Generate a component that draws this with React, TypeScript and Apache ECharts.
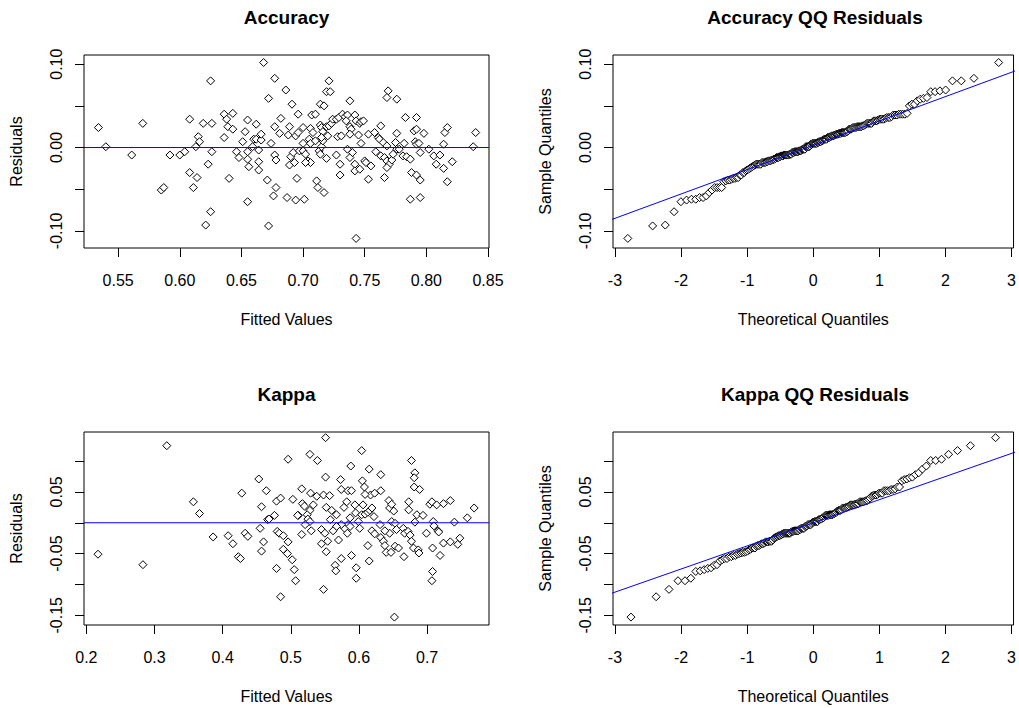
import React, { useEffect, useRef } from "react";
import * as echarts from "echarts";

// ---------- data ----------
// Accuracy model: [fitted value, residual]
const accuracyPoints: [number, number][] = [
  [0.534, 0.024], [0.540, 0.001], [0.561, -0.009], [0.570, 0.029], [0.592, -0.009], [0.600, -0.009],
  [0.604, -0.005], [0.585, -0.051], [0.587, -0.048], [0.608, 0.034], [0.615, 0.013], [0.616, 0.007],
  [0.613, 0.001], [0.619, 0.029], [0.626, 0.029], [0.625, 0.080], [0.626, -0.005], [0.623, -0.020],
  [0.608, -0.030], [0.614, -0.036], [0.611, -0.048], [0.625, -0.077], [0.621, -0.093], [0.636, 0.040],
  [0.643, 0.041], [0.638, 0.034], [0.639, 0.025], [0.643, 0.022], [0.636, 0.012], [0.640, -0.037],
  [0.646, -0.005], [0.648, -0.012], [0.651, 0.007], [0.653, 0.019], [0.655, 0.033], [0.655, -0.005],
  [0.655, -0.014], [0.656, -0.023], [0.659, 0.001], [0.660, 0.010], [0.662, 0.010], [0.662, 0.028],
  [0.664, -0.003], [0.664, -0.017], [0.664, -0.027], [0.666, 0.009], [0.666, 0.016], [0.655, -0.065],
  [0.668, 0.102], [0.671, -0.039], [0.672, 0.059], [0.672, -0.094], [0.674, 0.005], [0.677, 0.083],
  [0.677, -0.009], [0.678, -0.015], [0.678, -0.048], [0.676, -0.058], [0.677, 0.025], [0.681, 0.017],
  [0.682, 0.035], [0.686, 0.069], [0.691, 0.052], [0.688, 0.015], [0.687, -0.060], [0.689, 0.025],
  [0.690, -0.011], [0.689, -0.021], [0.694, -0.063], [0.693, -0.018], [0.694, 0.014], [0.695, -0.037],
  [0.696, 0.040], [0.696, 0.018], [0.692, -0.006], [0.697, -0.004],
  [0.701, -0.062], [0.700, 0.024], [0.700, 0.005], [0.700, -0.004], [0.702, -0.008], [0.704, -0.016],
  [0.706, -0.018], [0.702, -0.018], [0.706, 0.023], [0.708, 0.018], [0.707, 0.039], [0.710, 0.040],
  [0.705, 0.010], [0.706, 0.005], [0.710, 0.008], [0.711, -0.040], [0.712, -0.048], [0.717, -0.054],
  [0.713, -0.004], [0.714, -0.008], [0.719, -0.013], [0.715, 0.001], [0.714, 0.027], [0.715, 0.024],
  [0.716, 0.019], [0.719, 0.025], [0.721, 0.026], [0.723, 0.029], [0.714, 0.052], [0.717, 0.050],
  [0.716, 0.008], [0.715, 0.012], [0.720, 0.014], [0.719, 0.067], [0.722, 0.067], [0.721, 0.080],
  [0.724, 0.034], [0.727, 0.034], [0.729, 0.036], [0.728, 0.013], [0.731, 0.014], [0.727, -0.009],
  [0.730, -0.020], [0.730, -0.033], [0.732, 0.040], [0.734, 0.037], [0.736, 0.039], [0.735, 0.032],
  [0.738, 0.025], [0.739, 0.022], [0.738, 0.016], [0.738, 0.056], [0.742, 0.039], [0.743, 0.032],
  [0.746, 0.029], [0.747, 0.031], [0.749, 0.032], [0.745, 0.015], [0.736, -0.002], [0.738, -0.012],
  [0.740, -0.006], [0.742, -0.020], [0.742, -0.028], [0.746, -0.026], [0.747, 0.005], [0.750, -0.016],
  [0.751, -0.018], [0.755, -0.022], [0.753, -0.038], [0.753, 0.016], [0.758, 0.018], [0.761, 0.012],
  [0.763, 0.026], [0.759, -0.005], [0.762, 0.010], [0.765, 0.006], [0.768, 0.002], [0.763, -0.010],
  [0.766, -0.012], [0.768, -0.016], [0.770, -0.020], [0.768, -0.024], [0.772, -0.015], [0.773, -0.008],
  [0.766, -0.036], [0.769, 0.068], [0.768, 0.060], [0.776, 0.058], [0.776, 0.017], [0.775, 0.006],
  [0.776, -0.002], [0.778, -0.002], [0.782, 0.005], [0.781, -0.010], [0.784, -0.011], [0.787, -0.014],
  [0.783, 0.036], [0.792, 0.036], [0.790, 0.020], [0.792, 0.022], [0.798, 0.017], [0.791, 0.007],
  [0.792, 0.004], [0.794, 0.005], [0.795, -0.006], [0.802, -0.002], [0.788, -0.030], [0.792, -0.033],
  [0.795, -0.039], [0.787, -0.062], [0.795, -0.060], [0.806, -0.010], [0.811, -0.009], [0.808, -0.020],
  [0.814, -0.025], [0.821, -0.017], [0.815, 0.018], [0.817, 0.024], [0.814, 0.004], [0.817, -0.041],
  [0.838, 0.001], [0.840, 0.018], [0.743, -0.109],
];

// Kappa model: [fitted value, residual]
const kappaPoints: [number, number][] = [
  [0.217, -0.051], [0.283, -0.068], [0.318, 0.125], [0.357, 0.034], [0.366, 0.015], [0.386, -0.023],
  [0.408, -0.021], [0.415, -0.034], [0.423, -0.055], [0.426, -0.058], [0.428, 0.048], [0.433, -0.017],
  [0.437, -0.022], [0.453, 0.071], [0.464, 0.052], [0.457, 0.026], [0.466, 0.005], [0.468, 0.006],
  [0.476, 0.012], [0.455, -0.009], [0.460, -0.031], [0.457, -0.046], [0.479, 0.035], [0.485, 0.040],
  [0.480, -0.014], [0.483, -0.017], [0.489, -0.021], [0.496, -0.031], [0.489, -0.043], [0.495, -0.050],
  [0.502, -0.060], [0.479, -0.074], [0.505, -0.076], [0.507, -0.094], [0.485, -0.120], [0.496, 0.103],
  [0.503, 0.038], [0.511, 0.012],
  [0.551, 0.138], [0.528, 0.111], [0.539, 0.101], [0.604, 0.117], [0.588, 0.092], [0.551, 0.074],
  [0.573, 0.070], [0.615, 0.087], [0.632, 0.078], [0.605, 0.068], [0.608, 0.058], [0.516, 0.055],
  [0.529, 0.048], [0.538, 0.043], [0.548, 0.045], [0.557, 0.044], [0.574, 0.054], [0.584, 0.052],
  [0.589, 0.052], [0.517, 0.031], [0.520, 0.027], [0.533, 0.029], [0.528, 0.020], [0.524, 0.013],
  [0.525, 0.006], [0.528, 0.002], [0.521, -0.003], [0.510, 0.012], [0.516, -0.019], [0.530, -0.013],
  [0.545, -0.011], [0.550, -0.017], [0.552, 0.025], [0.560, 0.020], [0.558, 0.005], [0.567, 0.013],
  [0.578, 0.025], [0.582, 0.034], [0.594, 0.029], [0.595, 0.016], [0.587, 0.008], [0.584, -0.003],
  [0.579, -0.009], [0.583, -0.017], [0.587, -0.006], [0.574, -0.003], [0.567, -0.006], [0.562, -0.013],
  [0.570, -0.028], [0.545, -0.034], [0.554, -0.030], [0.552, -0.047], [0.574, -0.058], [0.565, -0.069],
  [0.566, -0.078], [0.589, -0.053], [0.596, -0.073], [0.596, -0.090], [0.548, -0.108], [0.599, 0.002],
  [0.601, -0.009], [0.604, 0.013], [0.609, 0.014], [0.613, 0.017], [0.616, 0.020], [0.619, 0.024],
  [0.617, 0.045], [0.623, 0.048], [0.609, 0.046], [0.606, 0.029], [0.632, 0.052], [0.622, 0.010],
  [0.613, -0.037], [0.615, -0.062], [0.619, -0.013], [0.623, -0.018], [0.631, -0.003], [0.632, -0.024],
  [0.636, -0.030], [0.638, -0.037], [0.640, -0.048], [0.647, -0.048], [0.653, -0.038], [0.658, -0.041],
  [0.645, 0.024], [0.644, 0.036], [0.648, 0.030], [0.651, 0.019], [0.648, 0.002], [0.653, -0.001],
  [0.655, -0.011], [0.645, -0.017], [0.638, -0.013], [0.666, -0.055], [0.652, -0.153], [0.665, -0.009],
  [0.667, -0.017], [0.672, -0.014], [0.675, -0.020], [0.673, 0.034], [0.673, 0.021], [0.677, 0.101],
  [0.682, 0.081], [0.681, 0.073], [0.681, 0.058], [0.689, 0.054], [0.685, 0.013], [0.694, 0.012],
  [0.682, 0.001], [0.677, -0.030], [0.680, -0.041], [0.687, -0.044], [0.688, -0.049], [0.699, -0.017],
  [0.704, 0.030], [0.707, 0.034], [0.714, 0.029], [0.724, 0.031], [0.734, 0.036], [0.709, 0.002],
  [0.710, -0.005], [0.716, -0.013], [0.717, -0.015], [0.708, -0.041], [0.719, -0.053], [0.708, -0.079],
  [0.707, -0.094], [0.724, -0.033], [0.734, -0.031], [0.745, -0.035], [0.748, -0.025], [0.740, 0.001],
  [0.759, 0.008], [0.769, 0.024],
];

// Reference lines: [intercept, slope]
const accuracyZeroLine = [0, 0];
const kappaZeroLine = [0, 0];
const accuracyQQLine = [0.0027, 0.0292];
const kappaQQLine = [0.0, 0.0375];

// Axis ticks and labels
const accFittedTicks = [0.55, 0.6, 0.65, 0.7, 0.75, 0.8, 0.85];
const accResidTicks = [-0.1, -0.05, 0, 0.05, 0.1];
const accResidLabels = [-0.1, 0, 0.1];
const kapFittedTicks = [0.2, 0.3, 0.4, 0.5, 0.6, 0.7];
const kapResidTicks = [-0.15, -0.1, -0.05, 0, 0.05, 0.1];
const kapResidLabels = [-0.15, -0.05, 0.05];
const quantileTicks = [-3, -2, -1, 0, 1, 2, 3];

const titles = ["Accuracy", "Accuracy QQ Residuals", "Kappa", "Kappa QQ Residuals"];

// ---------- helpers ----------
const FONT = '"Liberation Sans", Arial, Helvetica, sans-serif';

// inverse standard normal CDF (Acklam)
function qnorm(p: number): number {
  const a = [-3.969683028665376e1, 2.209460984245205e2, -2.759285104469687e2, 1.38357751867269e2, -3.066479806614716e1, 2.506628277459239];
  const b = [-5.447609879822406e1, 1.615858368580409e2, -1.556989798598866e2, 6.680131188771972e1, -1.328068155288572e1];
  const c = [-7.784894002430293e-3, -3.223964580411365e-1, -2.400758277161838, -2.549732539343734, 4.374664141464968, 2.938163982698783];
  const d = [7.784695709041462e-3, 3.224671290700398e-1, 2.445134137142996, 3.754408661907416];
  const pl = 0.02425;
  if (p < pl) {
    const q = Math.sqrt(-2 * Math.log(p));
    return (((((c[0] * q + c[1]) * q + c[2]) * q + c[3]) * q + c[4]) * q + c[5]) / ((((d[0] * q + d[1]) * q + d[2]) * q + d[3]) * q + 1);
  }
  if (p > 1 - pl) {
    const q = Math.sqrt(-2 * Math.log(1 - p));
    return -(((((c[0] * q + c[1]) * q + c[2]) * q + c[3]) * q + c[4]) * q + c[5]) / ((((d[0] * q + d[1]) * q + d[2]) * q + d[3]) * q + 1);
  }
  const q = p - 0.5;
  const r = q * q;
  return ((((((a[0] * r + a[1]) * r + a[2]) * r + a[3]) * r + a[4]) * r + a[5]) * q) / (((((b[0] * r + b[1]) * r + b[2]) * r + b[3]) * r + b[4]) * r + 1);
}

// normal QQ points: sorted residuals against theoretical quantiles
function qqPoints(points: [number, number][]): [number, number][] {
  const res = points.map((p) => p[1]).sort((x, y) => x - y);
  const n = res.length;
  return res.map((v, i) => [qnorm((i + 1 - 0.5) / n), v]);
}

function axis(
  gridIndex: number,
  min: number,
  max: number,
  ticks: number[],
  labels: number[],
  digits: number,
  name: string,
  nameGap: number,
  margin: number,
  vertical: boolean
) {
  return {
    type: "value",
    gridIndex,
    min,
    max,
    position: vertical ? "left" : "bottom",
    name,
    nameLocation: "middle",
    nameGap,
    nameTextStyle: { fontSize: 16, fontFamily: FONT, color: "#000" },
    axisLine: { show: false, onZero: false },
    splitLine: { show: false },
    axisTick: { show: true, customValues: ticks, length: 9, lineStyle: { color: "#000", width: 1 } },
    axisLabel: {
      customValues: labels,
      formatter: (v: number) => v.toFixed(digits),
      fontSize: 16,
      fontFamily: FONT,
      color: "#000",
      margin,
      rotate: vertical ? 90 : 0,
    },
  };
}

const BLUE = "#0000ff";

function scatter(idx: number, data: [number, number][]) {
  return {
    type: "scatter",
    xAxisIndex: idx,
    yAxisIndex: idx,
    data,
    symbol: "diamond",
    symbolSize: 8,
    silent: true,
    z: 2,
    itemStyle: { color: "#ffffff", opacity: 1, borderColor: "#000000", borderWidth: 1 },
  };
}

// straight reference line y = b + m x, drawn across the plot
function refLine(idx: number, line: number[], x0: number, x1: number, clip: boolean) {
  const [b, m] = line;
  return {
    type: "line",
    xAxisIndex: idx,
    yAxisIndex: idx,
    data: [[x0, b + x0 * m], [x1, b + x1 * m]],
    symbol: "none",
    silent: true,
    clip,
    zlevel: 1,
    z: 10,
    lineStyle: { color: BLUE, width: 1 },
  };
}

export default function App() {
  const ref = useRef<HTMLDivElement>(null);

  useEffect(() => {
    if (!ref.current) return;
    const chart = echarts.init(ref.current, null, { renderer: "svg" });

    const accX: [number, number] = [0.5223, 0.8508];
    const accY: [number, number] = [-0.1205, 0.111];
    const kapX: [number, number] = [0.1965, 0.7908];
    const kapY: [number, number] = [-0.1658, 0.1472];
    const qX: [number, number] = [-3.03, 3.03];

    const gridBase = { show: true, borderColor: "#000", borderWidth: 1 };
    const grids = [
      { left: 84, top: 55, width: 405, height: 193 },
      { left: 613, top: 55, width: 404, height: 193 },
      { left: 84, top: 432, width: 405, height: 193 },
      { left: 613, top: 432, width: 404, height: 193 },
    ].map((g) => ({ ...gridBase, ...g }));

    const centers = grids.map((g) => [g.left + g.width / 2, g.top - 38]);

    const option = {
      animation: false,
      backgroundColor: "#fff",
      grid: grids,
      xAxis: [
        axis(0, accX[0], accX[1], accFittedTicks, accFittedTicks, 2, "Fitted Values", 63, 24, false),
        axis(1, qX[0], qX[1], quantileTicks, quantileTicks, 0, "Theoretical Quantiles", 63, 24, false),
        axis(2, kapX[0], kapX[1], kapFittedTicks, kapFittedTicks, 1, "Fitted Values", 63, 24, false),
        axis(3, qX[0], qX[1], quantileTicks, quantileTicks, 0, "Theoretical Quantiles", 63, 24, false),
      ],
      yAxis: [
        axis(0, accY[0], accY[1], accResidTicks, accResidLabels, 2, "Residuals", 60, 20, true),
        axis(1, accY[0], accY[1], accResidTicks, accResidLabels, 2, "Sample Quantiles", 60, 20, true),
        axis(2, kapY[0], kapY[1], kapResidTicks, kapResidLabels, 2, "Residuals", 60, 20, true),
        axis(3, kapY[0], kapY[1], kapResidTicks, kapResidLabels, 2, "Sample Quantiles", 60, 20, true),
      ],
      graphic: titles.map((t, i) => ({
        type: "text",
        x: centers[i][0],
        y: centers[i][1],
        silent: true,
        style: {
          text: t,
          fontSize: 19,
          fontWeight: "bold",
          fontFamily: FONT,
          fill: "#000",
          align: "center",
          verticalAlign: "middle",
        },
      })),
      series: [
        scatter(0, accuracyPoints),
        scatter(1, qqPoints(accuracyPoints)),
        scatter(2, kappaPoints),
        scatter(3, qqPoints(kappaPoints)),
        refLine(0, accuracyZeroLine, accX[0], accX[1], false),
        refLine(1, accuracyQQLine, -3.5, 3.5, true),
        refLine(2, kappaZeroLine, kapX[0], kapX[1], false),
        refLine(3, kappaQQLine, -3.5, 3.5, true),
      ],
    };

    chart.setOption(option as any);
    return () => chart.dispose();
  }, []);

  return (
    <div
      ref={ref}
      style={{ position: "absolute", left: 0, top: 0, width: 1019, height: 708, background: "#fff" }}
    />
  );
}
